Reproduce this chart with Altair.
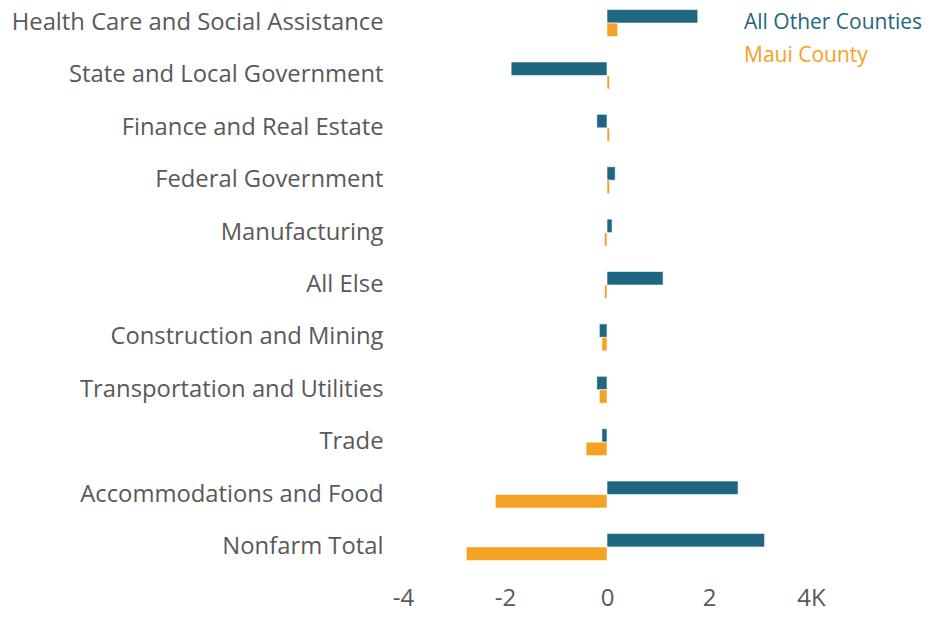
import altair as alt
import pandas as pd

categories = [
    "Health Care and Social Assistance",
    "State and Local Government",
    "Finance and Real Estate",
    "Federal Government",
    "Manufacturing",
    "All Else",
    "Construction and Mining",
    "Transportation and Utilities",
    "Trade",
    "Accommodations and Food",
    "Nonfarm Total",
]
other_counties = [1780, -1880, -200, 160, 100, 1100, -150, -200, -100, 2570, 3090]
maui_county = [210, 50, 50, 50, -50, -50, -100, -150, -410, -2190, -2760]
series = ["All Other Counties", "Maui County"]
colors = ["#1f6680", "#f5a123"]
x_ticks = [-4000, -2000, 0, 2000, 4000]

rows = []
for c, a, b in zip(categories, other_counties, maui_county):
    rows.append({"category": c, "series": series[0], "value": a})
    rows.append({"category": c, "series": series[1], "value": b})
df = pd.DataFrame(rows)

FONT = "Open Sans"
GRAY = "#595959"

bars = alt.Chart(df).mark_bar(stroke="white", strokeWidth=0.6).encode(
    y=alt.Y(
        "category:N",
        sort=categories,
        scale=alt.Scale(paddingInner=0.485, paddingOuter=0.03),
        axis=alt.Axis(
            title=None, labelFontSize=23.8, labelColor=GRAY, labelFont=FONT,
            ticks=False, tickSize=0, domain=False, labelPadding=20, labelLimit=600,
        ),
    ),
    yOffset=alt.YOffset("series:N", sort=series, scale=alt.Scale(paddingInner=0, paddingOuter=0)),
    x=alt.X(
        "value:Q",
        scale=alt.Scale(domain=[-4000, 4000], nice=False, zero=False),
        axis=alt.Axis(
            values=x_ticks, grid=False, domain=False, ticks=False, tickSize=0,
            labelExpr="datum.value == 4000 ? '4K' : '' + (datum.value / 1000)",
            labelFontSize=24, labelColor=GRAY, labelFont=FONT,
            labelBaseline="alphabetic", labelPadding=43, labelFlush=False,
            title=None,
        ),
    ),
    color=alt.Color("series:N", scale=alt.Scale(domain=series, range=colors), legend=None),
)

leg1 = alt.Chart(pd.DataFrame({"label": [series[0]]})).mark_text(
    align="left", baseline="middle", fontSize=21, font=FONT, color=colors[0]
).encode(text="label:N", x=alt.value(341), y=alt.value(15))

leg2 = alt.Chart(pd.DataFrame({"label": [series[1]]})).mark_text(
    align="left", baseline="middle", fontSize=21, font=FONT, color=colors[1]
).encode(text="label:N", x=alt.value(341), y=alt.value(48))

chart = alt.layer(bars, leg1, leg2).properties(
    width=408,
    height=554,
    autosize=alt.AutoSizeParams(type="none"),
    padding={"left": 395, "top": 0, "right": 112, "bottom": 50},
).configure_view(stroke=None)

chart.save("out.html", embed_options={"renderer": "svg", "actions": False})
